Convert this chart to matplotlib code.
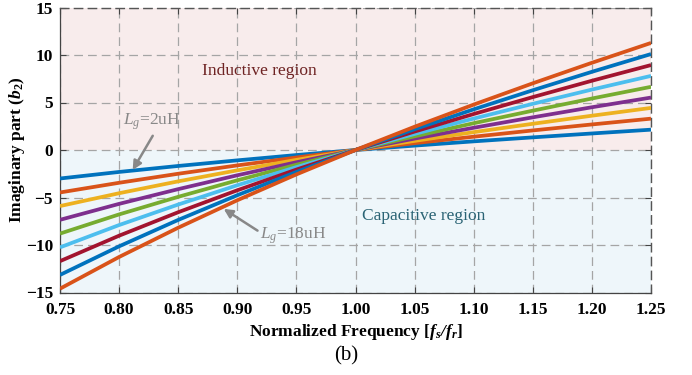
import matplotlib
matplotlib.use("Agg")
import matplotlib.pyplot as plt

plt.rcParams['font.family'] = ['Liberation Serif', 'DejaVu Serif']
plt.rcParams['mathtext.fontset'] = 'custom'
plt.rcParams['mathtext.rm'] = 'Liberation Serif'
plt.rcParams['mathtext.it'] = 'Liberation Serif:italic'
plt.rcParams['mathtext.bf'] = 'Liberation Serif:bold'
plt.rcParams['mathtext.bfit'] = 'Liberation Serif:italic:bold'

freq = [0.75, 0.80, 0.85, 0.90, 0.95, 1.00, 1.05, 1.10, 1.15, 1.20, 1.25]
lg_values = [2, 4, 6, 8, 10, 12, 14, 16, 18]
b2_lg2 = [-3.00, -2.31, -1.68, -1.09, -0.53, 0, 0.46, 0.91, 1.33, 1.74, 2.14]
b2_lg4 = [-4.47, -3.45, -2.50, -1.62, -0.79, 0, 0.72, 1.40, 2.06, 2.69, 3.30]
b2_lg6 = [-5.90, -4.55, -3.30, -2.14, -1.04, 0, 0.96, 1.88, 2.76, 3.61, 4.43]
b2_lg8 = [-7.35, -5.67, -4.12, -2.66, -1.29, 0, 1.20, 2.34, 3.44, 4.50, 5.52]
b2_lg10 = [-8.80, -6.78, -4.93, -3.19, -1.55, 0, 1.44, 2.82, 4.14, 5.42, 6.65]
b2_lg12 = [-10.25, -7.90, -5.74, -3.71, -1.80, 0, 1.69, 3.31, 4.86, 6.36, 7.80]
b2_lg14 = [-11.70, -9.02, -6.55, -4.24, -2.06, 0, 1.94, 3.79, 5.57, 7.29, 8.94]
b2_lg16 = [-13.15, -10.14, -7.36, -4.76, -2.31, 0, 2.19, 4.28, 6.29, 8.23, 10.10]
b2_lg18 = [-14.60, -11.26, -8.18, -5.29, -2.57, 0, 2.45, 4.78, 7.02, 9.18, 11.27]
series = [b2_lg2, b2_lg4, b2_lg6, b2_lg8, b2_lg10, b2_lg12, b2_lg14, b2_lg16, b2_lg18]

xticks = [0.75, 0.80, 0.85, 0.90, 0.95, 1.00, 1.05, 1.10, 1.15, 1.20, 1.25]
xticklabels = ['0.75', '0.80', '0.85', '0.90', '0.95', '1.00', '1.05', '1.10', '1.15', '1.20', '1.25']
yticks = [-15, -10, -5, 0, 5, 10, 15]

colors = ['#0072BD', '#D95319', '#EDB120', '#7E2F8E', '#77AC30',
          '#4DBEEE', '#A2142F', '#0072BD', '#D95319']

fig = plt.figure(figsize=(6.92, 3.75), dpi=100)
ax = fig.add_axes([60/692, 1-292.5/375, (651-60)/692, (292.5-7.5)/375])

ax.axhspan(0, 15, color='#F8ECEC', zorder=0, lw=0)
ax.axhspan(-15, 0, color='#EEF6FA', zorder=0, lw=0)

for s, c in zip(series, colors):
    ax.plot(freq, s, color=c, lw=2.7, zorder=3, solid_capstyle='butt')

ax.set_xlim(0.75, 1.25)
ax.set_ylim(-15, 15)
ax.set_xticks(xticks)
ax.set_xticklabels(xticklabels)
ax.set_yticks(yticks)
ax.grid(True, color='#a5a5a5', ls=(0, (7, 4)), lw=0.9, zorder=1)
ax.set_axisbelow(True)
ax.tick_params(direction='in', top=True, right=True, length=4, width=0.8,
               color='#444444', labelsize=12.5)
ax.tick_params(axis='x', pad=7)
ax.tick_params(axis='y', pad=5)
for lab in ax.get_xticklabels() + ax.get_yticklabels():
    lab.set_fontweight('bold')
for sp in ['left', 'bottom']:
    ax.spines[sp].set_color('#444444')
    ax.spines[sp].set_linewidth(0.9)
for sp in ['top', 'right']:
    ax.spines[sp].set_color('#555555')
    ax.spines[sp].set_linewidth(1.0)
    ax.spines[sp].set_linestyle((0, (6, 4)))

ax.set_xlabel(r'Normalized Frequency [$\mathbfit{f_s/f_r}$]', fontsize=12.5,
              fontweight='bold', labelpad=3)
ax.set_ylabel(r'Imaginary part ($\mathbfit{b}_\mathbf{2}$)', fontsize=12.5,
              fontweight='bold', labelpad=-1)

ax.text(0.919, 8.3, 'Inductive region', color='#6E2323', fontsize=12.5,
        ha='center', va='center', zorder=4)
ax.text(1.0575, -6.95, 'Capacitive region', color='#2A6374', fontsize=12.5,
        ha='center', va='center', zorder=4)

ax.annotate(r'$L_g$=2uH', xy=(0.8115, -2.1), xytext=(0.828, 3.0),
            color='#888888', fontsize=12.5, ha='center', va='center', zorder=5,
            arrowprops=dict(arrowstyle='-|>', color='#888888', lw=1.8,
                            shrinkA=1, shrinkB=0, mutation_scale=13,
                            relpos=(0.55, 0.0)))
ax.annotate(r'$L_g$=18uH', xy=(0.8885, -6.2), xytext=(0.9475, -9.0),
            color='#888888', fontsize=12.5, ha='center', va='center', zorder=5,
            arrowprops=dict(arrowstyle='-|>', color='#888888', lw=1.8,
                            shrinkA=0, shrinkB=0, mutation_scale=13,
                            relpos=(0.0, 0.65)))

fig.text(346/692, 1-356/375, '(b)', fontsize=15, ha='center', va='center')

fig.savefig('out.png', dpi=100)
